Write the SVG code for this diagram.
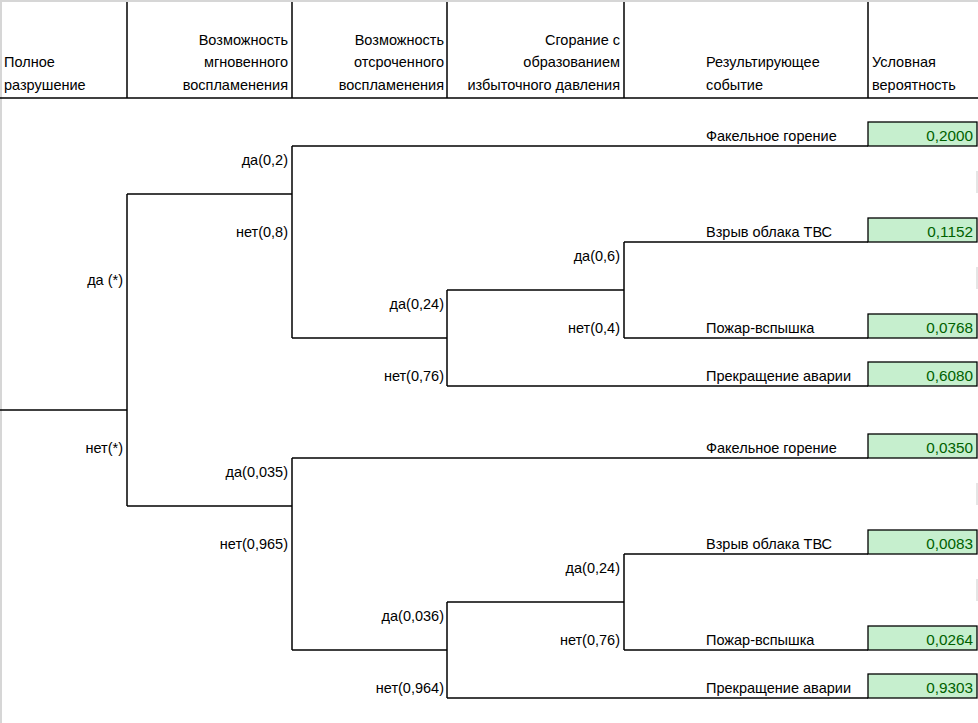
<svg xmlns="http://www.w3.org/2000/svg" width="978" height="723" viewBox="0 0 978 723">
<style>
  text { font-family: "Liberation Sans", Arial, sans-serif; font-size: 14.5px; fill: #000; }
  .r { text-anchor: end; }
  .val { font-family: "Liberation Sans", Arial, sans-serif; font-size: 15.3px; text-anchor: end; fill: #006100; }
  .cell { fill: #C6EFCE; stroke: #000; stroke-width: 1.3; }
  .ln { stroke: #000; stroke-width: 1.5; fill: none; }
  .edge { fill: #d6d6d6; }
</style>
<rect width="978" height="723" fill="#fff"/>
<rect class="edge" x="0" y="0" width="978" height="2"/>
<rect class="edge" x="0" y="0" width="2" height="723"/>
<g id="faint-marks" stroke="#dcdcdc" stroke-width="1.5">
  <line x1="977" y1="171" x2="977" y2="193"/>
  <line x1="977" y1="267" x2="977" y2="289"/>
  <line x1="977" y1="483" x2="977" y2="505"/>
  <line x1="977" y1="579" x2="977" y2="601"/>
</g>

<g id="header">
  <g id="header-grid" class="ln">
    <line x1="127" y1="2" x2="127" y2="98"/>
    <line x1="292" y1="2" x2="292" y2="98"/>
    <line x1="447" y1="2" x2="447" y2="98"/>
    <line x1="624" y1="2" x2="624" y2="98"/>
    <line x1="868" y1="2" x2="868" y2="98"/>
    <line x1="0" y1="98" x2="978" y2="98"/>
  </g>
  <g id="h1"><text x="4" y="67">Полное</text><text x="4" y="90">разрушение</text></g>
  <g id="h2"><text class="r" x="288" y="45">Возможность</text><text class="r" x="288" y="67">мгновенного</text><text class="r" x="288" y="90">воспламенения</text></g>
  <g id="h3"><text class="r" x="444" y="45">Возможность</text><text class="r" x="444" y="67">отсроченного</text><text class="r" x="444" y="90">воспламенения</text></g>
  <g id="h4"><text class="r" x="620" y="45">Сгорание с</text><text class="r" x="620" y="67">образованием</text><text class="r" x="620" y="90">избыточного давления</text></g>
  <g id="h5"><text x="706" y="67">Результирующее</text><text x="706" y="90">событие</text></g>
  <g id="h6"><text x="872" y="67">Условная</text><text x="872" y="90">вероятность</text></g>
</g>

<g id="connectors" class="ln">
  <!-- root -->
  <line x1="0" y1="410" x2="127" y2="410"/>
  <line x1="127" y1="194" x2="127" y2="506"/>
  <!-- upper: да (*) -->
  <line x1="127" y1="194" x2="292" y2="194"/>
  <line x1="292" y1="146" x2="292" y2="338"/>
  <line x1="292" y1="146" x2="868" y2="146"/>
  <line x1="292" y1="338" x2="447" y2="338"/>
  <line x1="447" y1="290" x2="447" y2="386"/>
  <line x1="447" y1="290" x2="624" y2="290"/>
  <line x1="624" y1="242" x2="624" y2="338"/>
  <line x1="624" y1="242" x2="868" y2="242"/>
  <line x1="624" y1="338" x2="868" y2="338"/>
  <line x1="447" y1="386" x2="868" y2="386"/>
  <!-- lower: нет(*) -->
  <line x1="127" y1="506" x2="292" y2="506"/>
  <line x1="292" y1="458" x2="292" y2="650"/>
  <line x1="292" y1="458" x2="868" y2="458"/>
  <line x1="292" y1="650" x2="447" y2="650"/>
  <line x1="447" y1="602" x2="447" y2="698"/>
  <line x1="447" y1="602" x2="624" y2="602"/>
  <line x1="624" y1="554" x2="624" y2="650"/>
  <line x1="624" y1="554" x2="868" y2="554"/>
  <line x1="624" y1="650" x2="868" y2="650"/>
  <line x1="447" y1="698" x2="868" y2="698"/>
</g>

<g id="branch-labels">
  <g id="b-da-root"><text class="r" x="123" y="285">да (*)</text></g>
  <g id="b-net-root"><text class="r" x="123" y="453">нет(*)</text></g>
  <g id="b1"><text class="r" x="288" y="165">да(0,2)</text></g>
  <g id="b2"><text class="r" x="288" y="237">нет(0,8)</text></g>
  <g id="b3"><text class="r" x="620" y="261">да(0,6)</text></g>
  <g id="b4"><text class="r" x="444" y="309">да(0,24)</text></g>
  <g id="b5"><text class="r" x="620" y="333">нет(0,4)</text></g>
  <g id="b6"><text class="r" x="444" y="381">нет(0,76)</text></g>
  <g id="b7"><text class="r" x="288" y="477">да(0,035)</text></g>
  <g id="b8"><text class="r" x="288" y="549">нет(0,965)</text></g>
  <g id="b9"><text class="r" x="620" y="573">да(0,24)</text></g>
  <g id="b10"><text class="r" x="444" y="621">да(0,036)</text></g>
  <g id="b11"><text class="r" x="620" y="645">нет(0,76)</text></g>
  <g id="b12"><text class="r" x="444" y="693">нет(0,964)</text></g>
</g>

<g id="outcomes">
  <g id="o1"><text x="706" y="141">Факельное горение</text><rect class="cell" x="868" y="122" width="109" height="24"/><text class="val" x="973" y="141">0,2000</text></g>
  <g id="o2"><text x="706" y="237">Взрыв облака ТВС</text><rect class="cell" x="868" y="218" width="109" height="24"/><text class="val" x="973" y="237">0,1152</text></g>
  <g id="o3"><text x="706" y="333">Пожар-вспышка</text><rect class="cell" x="868" y="314" width="109" height="24"/><text class="val" x="973" y="333">0,0768</text></g>
  <g id="o4"><text x="706" y="381">Прекращение аварии</text><rect class="cell" x="868" y="362" width="109" height="24"/><text class="val" x="973" y="381">0,6080</text></g>
  <g id="o5"><text x="706" y="453">Факельное горение</text><rect class="cell" x="868" y="434" width="109" height="24"/><text class="val" x="973" y="453">0,0350</text></g>
  <g id="o6"><text x="706" y="549">Взрыв облака ТВС</text><rect class="cell" x="868" y="530" width="109" height="24"/><text class="val" x="973" y="549">0,0083</text></g>
  <g id="o7"><text x="706" y="645">Пожар-вспышка</text><rect class="cell" x="868" y="626" width="109" height="24"/><text class="val" x="973" y="645">0,0264</text></g>
  <g id="o8"><text x="706" y="693">Прекращение аварии</text><rect class="cell" x="868" y="674" width="109" height="24"/><text class="val" x="973" y="693">0,9303</text></g>
</g>
</svg>
